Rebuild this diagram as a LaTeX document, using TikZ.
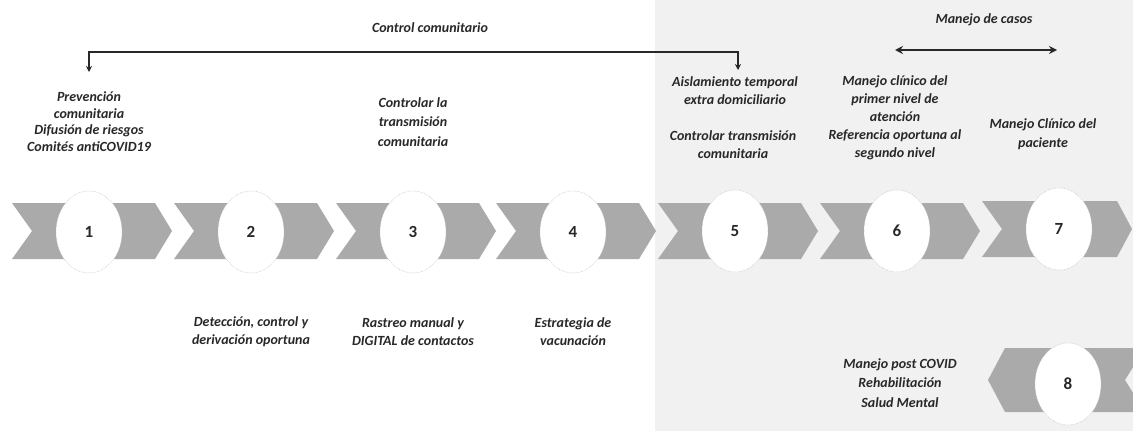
\documentclass[tikz,border=0pt]{standalone}
\usepackage{fontspec}
\setmainfont{Carlito}
\usetikzlibrary{shapes.geometric,arrows.meta}
\definecolor{chev}{RGB}{170,170,170}
\definecolor{bgband}{RGB}{241,241,241}
\definecolor{ink}{RGB}{40,40,40}
\tikzset{
  lbl/.style={align=center, text=ink, inner sep=0pt,
    font=\bfseries\itshape\fontsize{14}{18}\selectfont},
  num/.style={ellipse, fill=white, draw=gray!55, densely dotted, line width=0.5pt,
    minimum width=66pt, minimum height=82pt, inner sep=0pt, text=ink,
    font=\bfseries\fontsize{17}{17}\selectfont},
  link/.style={draw=ink, line width=1.8pt,
    {Stealth[length=6pt,width=6pt]}-{Stealth[length=6pt,width=6pt]}},
  biglink/.style={draw=ink, line width=2pt,
    {Stealth[length=8pt,width=8pt]}-{Stealth[length=8pt,width=8pt]}},
}
\begin{document}
\begin{tikzpicture}[x=1pt,y=-1pt]
\useasboundingbox (0,0) rectangle (1133,431);
\clip (0,0) rectangle (1133,431);
\fill[white] (0,0) rectangle (1133,431);
\fill[bgband] (655,0) rectangle (1133,431);
% chevrons
\foreach \c in {89,251,413,573,735,897}{
  \fill[chev] (\c-77,203) -- (\c+66,203) -- (\c+83,231) -- (\c+66,259)
    -- (\c-77,259) -- (\c-57,231) -- cycle;
}
\fill[chev] (982,201) -- (1117,201) -- (1132,229) -- (1117,257) -- (982,257) -- (1002,229) -- cycle;
\fill[chev] (988,380) -- (1005,348) -- (1145,348) -- (1125,380) -- (1145,412) -- (1005,412) -- cycle;
% circles
\node[num] (c1) at (89,232) {1};
\node[num] (c2) at (251,232) {2};
\node[num] (c3) at (413,232) {3};
\node[num] (c4) at (573,232) {4};
\node[num] (c5) at (735,231) {5};
\node[num] (c6) at (897,231) {6};
\node[num] (c7) at (1059,229) {7};
\node[num] (c8) at (1068,384) {8};
% top labels
\node[lbl] (ctrl) at (430,28) {Control comunitario};
\node[lbl] (casos) at (984,20) {Manejo de casos};
\node[lbl, font=\bfseries\itshape\fontsize{14}{16.5}\selectfont] (t1) at (89,121.5)
  {Prevención\\comunitaria\\Difusión de riesgos\\Comités antiCOVID19};
\node[lbl, font=\bfseries\itshape\fontsize{14}{19.5}\selectfont] (t3) at (413,122)
  {Controlar la\\transmisión\\comunitaria};
\node[lbl] (t5a) at (735,91) {Aislamiento temporal\\extra domiciliario};
\node[lbl] (t5b) at (733,145) {Controlar transmisión\\comunitaria};
\node[lbl] (t6) at (895,118)
  {Manejo clínico del\\primer nivel de\\atención\\Referencia oportuna al\\segundo nivel};
\node[lbl, font=\bfseries\itshape\fontsize{14}{19}\selectfont] (t7) at (1043,134.5)
  {Manejo Clínico del\\paciente};
% bottom labels
\node[lbl] (b2) at (251,332) {Detección, control y\\derivación oportuna};
\node[lbl] (b3) at (413,332) {Rastreo manual y\\DIGITAL de contactos};
\node[lbl] (b4) at (573,332) {Estrategia de\\vacunación};
\node[lbl, font=\bfseries\itshape\fontsize{14}{19.5}\selectfont] (b8) at (900,383)
  {Manejo post COVID\\Rehabilitación\\Salud Mental};
% connectors
\coordinate (a1) at (89,72);
\coordinate (k1) at (89,52);
\coordinate (k5) at (738,52);
\coordinate (a5) at (738,70);
\draw[link] (a1) -- (k1) -- (k5) -- (a5);
\coordinate (m1) at (895,50);
\coordinate (m2) at (1057,50);
\draw[biglink] (m1) -- (m2);
\end{tikzpicture}
\end{document}
